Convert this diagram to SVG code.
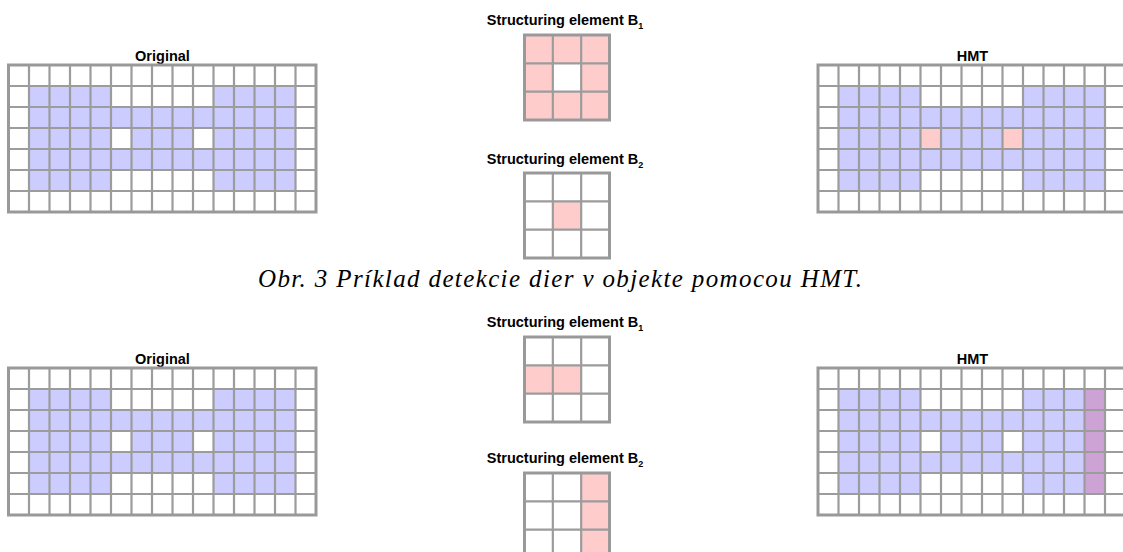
<svg xmlns="http://www.w3.org/2000/svg" xmlns:xlink="http://www.w3.org/1999/xlink" width="1123" height="552" viewBox="0 0 1123 552">
<style>
.lbl{font-family:"Liberation Sans",Arial,sans-serif;font-weight:bold;font-size:14.5px;fill:#000;text-anchor:middle}
.sub{font-size:9px}
.cap{font-family:"Liberation Serif","Times New Roman",serif;font-style:italic;font-size:25px;fill:#000}
.blue{fill:#ccccff}
.pink{fill:#ffcccc}
.purple{fill:#cca3d4}
.ln{fill:none;stroke:#9c9c9c;stroke-width:2.2}
.frame{fill:none;stroke:#999;stroke-width:3}
</style>
<defs>
<g id="bigFill">
<rect x="0" y="0" width="307.5" height="147" fill="#fff"/>
<rect class="blue" x="20.5" y="21" width="82" height="21"/>
<rect class="blue" x="205" y="21" width="82" height="21"/>
<rect class="blue" x="20.5" y="42" width="266.5" height="21"/>
<rect class="blue" x="20.5" y="63" width="82" height="21"/>
<rect class="blue" x="123" y="63" width="61.5" height="21"/>
<rect class="blue" x="205" y="63" width="82" height="21"/>
<rect class="blue" x="20.5" y="84" width="266.5" height="21"/>
<rect class="blue" x="20.5" y="105" width="82" height="21"/>
<rect class="blue" x="205" y="105" width="82" height="21"/>
</g>
<g id="bigLines">
<path class="ln" d="M20.5 0V147M41 0V147M61.5 0V147M82 0V147M102.5 0V147M123 0V147M143.5 0V147M164 0V147M184.5 0V147M205 0V147M225.5 0V147M246 0V147M266.5 0V147M287 0V147M0 21H307.5M0 42H307.5M0 63H307.5M0 84H307.5M0 105H307.5M0 126H307.5"/>
<rect class="frame" x="0" y="0" width="307.5" height="147"/>
</g>
<g id="smallLines">
<path class="ln" d="M28.33 0V85M56.67 0V85M0 28.33H85M0 56.67H85"/>
<rect class="frame" x="0" y="0" width="85" height="85"/>
</g>
</defs>
<rect width="1123" height="552" fill="#fff"/>

<g id="orig-top">
<text class="lbl" x="162.5" y="61">Original</text>
<g transform="translate(8.5,65)">
<use xlink:href="#bigFill"/>
<use xlink:href="#bigLines"/>
</g>
</g>

<g id="se-top-b1">
<text class="lbl" x="565" y="25">Structuring element B<tspan class="sub" dy="4">1</tspan></text>
<g transform="translate(524.5,35)">
<rect x="0" y="0" width="85" height="85" class="pink"/>
<rect x="28.33" y="28.33" width="28.33" height="28.33" fill="#fff"/>
<use xlink:href="#smallLines"/>
</g>
</g>

<g id="se-top-b2">
<text class="lbl" x="565" y="164">Structuring element B<tspan class="sub" dy="4">2</tspan></text>
<g transform="translate(524.5,173)">
<rect x="0" y="0" width="85" height="85" fill="#fff"/>
<rect x="28.33" y="28.33" width="28.33" height="28.33" class="pink"/>
<use xlink:href="#smallLines"/>
</g>
</g>

<g id="hmt-top">
<text class="lbl" x="972.5" y="61">HMT</text>
<g transform="translate(818,65)">
<use xlink:href="#bigFill"/>
<rect class="pink" x="102.5" y="63" width="20.5" height="21"/>
<rect class="pink" x="184.5" y="63" width="20.5" height="21"/>
<use xlink:href="#bigLines"/>
</g>
</g>

<text id="caption" class="cap" x="258" y="287" textLength="604" lengthAdjust="spacing">Obr. 3 Príklad detekcie dier v objekte pomocou HMT.</text>

<g id="orig-bottom">
<text class="lbl" x="162.5" y="364">Original</text>
<g transform="translate(8.5,368)">
<use xlink:href="#bigFill"/>
<use xlink:href="#bigLines"/>
</g>
</g>

<g id="se-bottom-b1">
<text class="lbl" x="565" y="327">Structuring element B<tspan class="sub" dy="4">1</tspan></text>
<g transform="translate(524.5,337)">
<rect x="0" y="0" width="85" height="85" fill="#fff"/>
<rect x="0" y="28.33" width="56.67" height="28.33" class="pink"/>
<use xlink:href="#smallLines"/>
</g>
</g>

<g id="se-bottom-b2">
<text class="lbl" x="565" y="463">Structuring element B<tspan class="sub" dy="4">2</tspan></text>
<g transform="translate(524.5,473)">
<rect x="0" y="0" width="85" height="85" fill="#fff"/>
<rect x="56.67" y="0" width="28.33" height="85" class="pink"/>
<use xlink:href="#smallLines"/>
</g>
</g>

<g id="hmt-bottom">
<text class="lbl" x="972.5" y="364">HMT</text>
<g transform="translate(818,368)">
<use xlink:href="#bigFill"/>
<rect class="purple" x="266.5" y="21" width="20.5" height="105"/>
<use xlink:href="#bigLines"/>
</g>
</g>
</svg>
